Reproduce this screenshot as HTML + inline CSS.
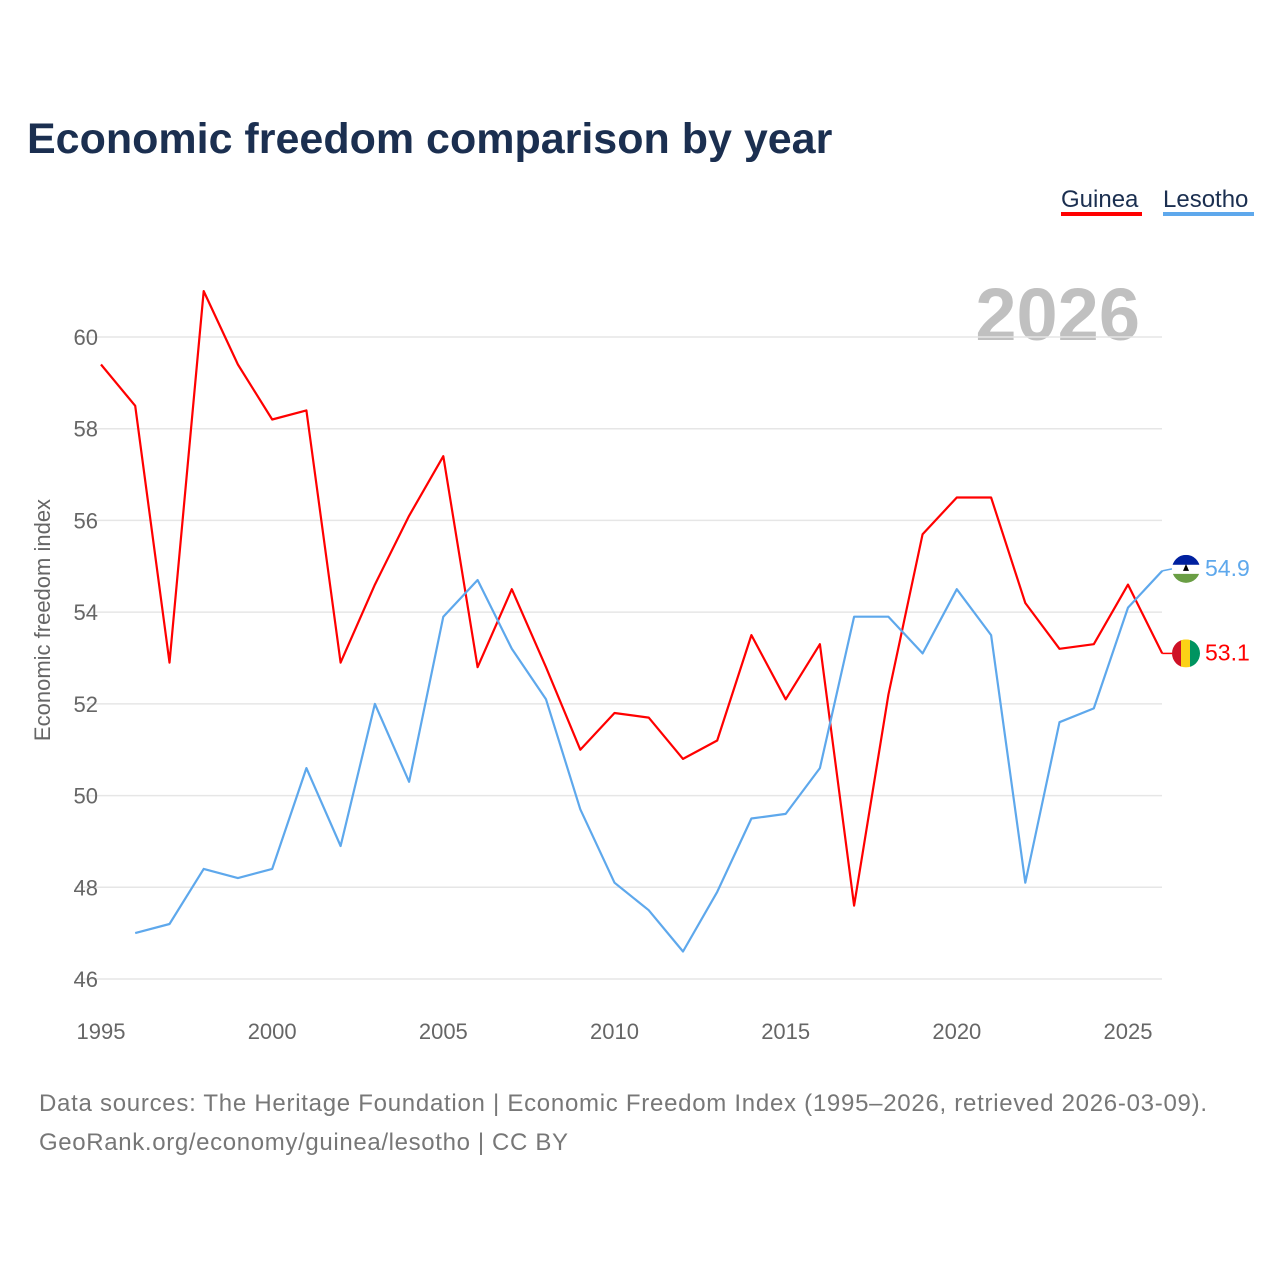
<!DOCTYPE html>
<html><head><meta charset="utf-8">
<style>
html,body{margin:0;padding:0;background:#fff;}
body{width:1280px;height:1280px;overflow:hidden;font-family:"Liberation Sans",sans-serif;}
</style></head>
<body>
<svg id="chart" width="1280" height="1280" xmlns="http://www.w3.org/2000/svg" font-family="Liberation Sans, sans-serif">
<text x="27" y="153" font-size="43" font-weight="bold" fill="#1b2f50">Economic freedom comparison by year</text>
<g>
<g><text x="1061" y="207" font-size="24" fill="#1b2f50">Guinea</text><rect x="1061" y="212" width="81" height="4" fill="#ff0000"/></g>
<g><text x="1163" y="207" font-size="24" fill="#1b2f50">Lesotho</text><rect x="1163" y="212" width="91" height="4" fill="#5ea8ec"/></g>
</g>
<text x="1140" y="340" text-anchor="end" font-size="74" font-weight="bold" fill="#c0c0c0">2026</text>
<g id="grid"></g>
<g id="yticks"></g>
<g id="xticks"></g>
<text transform="translate(50,620) rotate(-90)" text-anchor="middle" font-size="22" fill="#666">Economic freedom index</text>
<g id="series"></g>
<g id="ends"></g>
<text x="39" y="1111" font-size="24" fill="#777" textLength="1168" lengthAdjust="spacing">Data sources: The Heritage Foundation | Economic Freedom Index (1995–2026, retrieved 2026-03-09).</text>
<text x="39" y="1150" font-size="24" fill="#777" textLength="529" lengthAdjust="spacing">GeoRank.org/economy/guinea/lesotho | CC BY</text>
</svg>
<script>
const years = [1995,1996,1997,1998,1999,2000,2001,2002,2003,2004,2005,2006,2007,2008,2009,2010,2011,2012,2013,2014,2015,2016,2017,2018,2019,2020,2021,2022,2023,2024,2025,2026];
const guinea = [59.4,58.5,52.9,61.0,59.4,58.2,58.4,52.9,54.6,56.1,57.4,52.8,54.5,52.8,51.0,51.8,51.7,50.8,51.2,53.5,52.1,53.3,47.6,52.2,55.7,56.5,56.5,54.2,53.2,53.3,54.6,53.1];
const lesotho = [null,47.0,47.2,48.4,48.2,48.4,50.6,48.9,52.0,50.3,53.9,54.7,53.2,52.1,49.7,48.1,47.5,46.6,47.9,49.5,49.6,50.6,53.9,53.9,53.1,54.5,53.5,48.1,51.6,51.9,54.1,54.9];
const yTicks = [46,48,50,52,54,56,58,60];
const xTicks = [1995,2000,2005,2010,2015,2020,2025];
const NS="http://www.w3.org/2000/svg";
const xs = y => 101 + (y-1995)*(1128-101)/30;
const ys = v => 979 - (v-46)*(979-337)/14;
function mk(tag, attrs, parent){const e=document.createElementNS(NS,tag);for(const k in attrs)e.setAttribute(k,attrs[k]);parent.appendChild(e);return e;}
const grid=document.getElementById('grid'), yt=document.getElementById('yticks'), xt=document.getElementById('xticks');
yTicks.forEach(v=>{
  const l=mk('line',{x1:75,x2:1162,y1:ys(v),y2:ys(v),stroke:'#e6e6e6','stroke-width':1.5},grid);
  
  
  const t=mk('text',{x:98,y:ys(v)+8,'text-anchor':'end','font-size':22,fill:'#666'},yt);
  t.textContent=v;
  
  
});
xTicks.forEach(v=>{
  const t=mk('text',{x:xs(v),y:1039,'text-anchor':'middle','font-size':22,fill:'#666'},xt);
  t.textContent=v;
  
  
});
function path(vals){let d='';let started=false;vals.forEach((v,i)=>{if(v==null)return;d+=(started?'L':'M')+xs(years[i]).toFixed(1)+','+ys(v).toFixed(1);started=true;});return d;}
const s=document.getElementById('series');
const pg=mk('path',{d:path(guinea),fill:'none',stroke:'#ff0000','stroke-width':2.2,'stroke-linejoin':'round'},s);


const pl=mk('path',{d:path(lesotho),fill:'none',stroke:'#5ea8ec','stroke-width':2.2,'stroke-linejoin':'round'},s);


const ends=document.getElementById('ends');
const lastG=guinea[guinea.length-1], lastL=lesotho[lesotho.length-1];
const ex=xs(years[years.length-1]);
const gl=mk('g',{},ends);


const cy1=ys(lastL)-2;
mk('line',{x1:ex,y1:ys(lastL),x2:1172,y2:cy1,stroke:'#5ea8ec','stroke-width':1.5},gl);
const cp1=mk('clipPath',{id:'c1'},gl);mk('circle',{cx:1186,cy:cy1,r:14},cp1);
mk('rect',{x:1172,y:cy1-14,width:28,height:10,fill:'#00209f','clip-path':'url(#c1)'},gl);
mk('rect',{x:1172,y:cy1-4,width:28,height:9,fill:'#fff','clip-path':'url(#c1)'},gl);
mk('rect',{x:1172,y:cy1+5,width:28,height:10,fill:'#6a9e44','clip-path':'url(#c1)'},gl);
mk('path',{d:`M1183,${cy1+2} L1189,${cy1+2} L1186,${cy1-5} Z`,fill:'#000'},gl);
const tl=mk('text',{x:1205,y:ys(lastL)+5,'font-size':23,fill:'#5ea8ec'},ends);
tl.textContent=lastL.toFixed(1);


const gg=mk('g',{},ends);


const cy2=ys(lastG);
mk('line',{x1:ex,y1:cy2,x2:1172,y2:cy2,stroke:'#ff0000','stroke-width':1.5},gg);
const cp=mk('clipPath',{id:'c2'},gg);mk('circle',{cx:1186,cy:cy2,r:14},cp);
mk('rect',{x:1172,y:cy2-14,width:10,height:28,fill:'#ce1126','clip-path':'url(#c2)'},gg);
mk('rect',{x:1181,y:cy2-14,width:10,height:28,fill:'#fcd116','clip-path':'url(#c2)'},gg);
mk('rect',{x:1190,y:cy2-14,width:10,height:28,fill:'#009460','clip-path':'url(#c2)'},gg);
const tg=mk('text',{x:1205,y:cy2+7,'font-size':23,fill:'#ff0000'},ends);
tg.textContent=lastG.toFixed(1);


</script>
</body></html>
